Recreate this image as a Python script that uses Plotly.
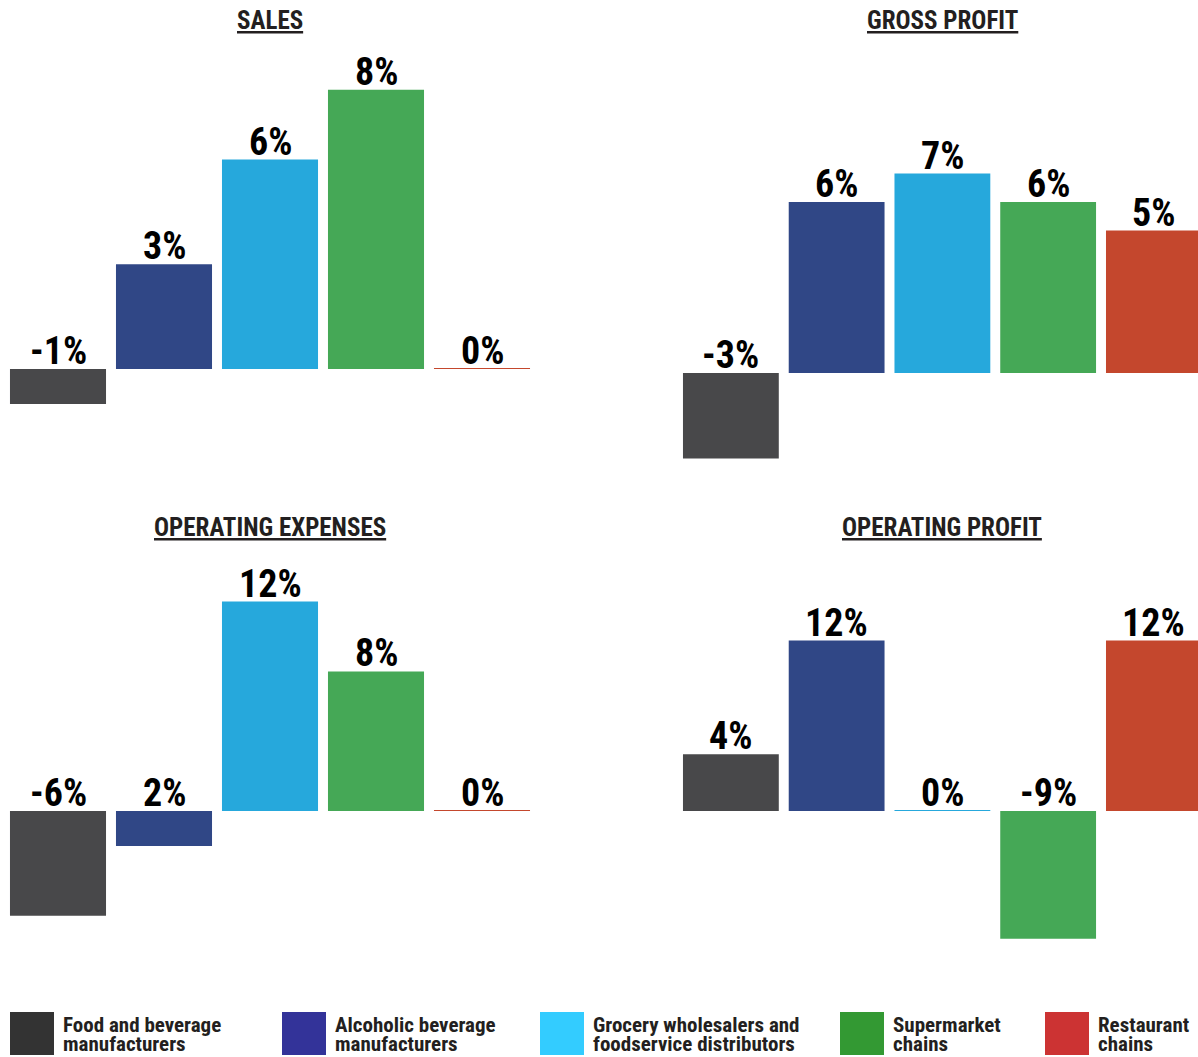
import plotly.graph_objects as go

W, H = 1198, 1057

categories = ["Food and beverage manufacturers", "Alcoholic beverage manufacturers",
              "Grocery wholesalers and foodservice distributors", "Supermarket chains",
              "Restaurant chains"]
legend_line1 = ["Food and beverage", "Alcoholic beverage", "Grocery wholesalers and",
                "Supermarket", "Restaurant"]
legend_line2 = ["manufacturers", "manufacturers", "foodservice distributors",
                "chains", "chains"]

panel_titles = ["SALES", "GROSS PROFIT", "OPERATING EXPENSES", "OPERATING PROFIT"]

sales_values = [-1, 3, 6, 8, 0.005]
sales_labels = ["-1%", "3%", "6%", "8%", "0%"]
gross_values = [-3, 6, 7, 6, 5]
gross_labels = ["-3%", "6%", "7%", "6%", "5%"]
opex_values = [-6, -2, 12, 8, 0.005]
opex_labels = ["-6%", "2%", "12%", "8%", "0%"]
opprofit_values = [4, 12, 0.01, -9, 12]
opprofit_labels = ["4%", "12%", "0%", "-9%", "12%"]

bar_colors = ["#48484a", "#304786", "#26a8dc", "#45a856", "#c4472d"]
legend_colors = ["#333333", "#333399", "#33ccff", "#339933", "#cc3333"]

FONT = "Roboto Condensed, Liberation Sans Narrow, DejaVu Sans Condensed, sans-serif"

fig = go.Figure()

def px_x(p):
    return p / W

def px_y(p):
    return 1 - p / H

panels = [
    (sales_values, sales_labels, (5, 535), (50, 470), 369, 34.9, 4.5),
    (gross_values, gross_labels, (678, 1198), (50, 470), 373, 28.5, 4.417),
    (opex_values, opex_labels, (5, 535), (560, 965), 811, 17.45, 4.5),
    (opprofit_values, opprofit_labels, (678, 1198), (560, 965), 811, 14.2, 4.417),
]

title_pos = [(270, 21), (942, 21), (270, 527), (942, 527)]

for i, (vals, labs, xd, yd, zero, scale, xend) in enumerate(panels, start=1):
    xa = "x" if i == 1 else f"x{i}"
    ya = "y" if i == 1 else f"y{i}"
    fig.add_trace(go.Bar(
        x=categories, y=vals, marker=dict(color=bar_colors, line=dict(width=0)),
        xaxis=xa, yaxis=ya, showlegend=False, hoverinfo="skip",
    ))
    for cat, v, lab in zip(categories, vals, labs):
        fig.add_annotation(
            x=cat, y=max(v, 0), xref=xa, yref=ya, text=lab, showarrow=False,
            xanchor="center", yanchor="bottom", yshift=-6,
            font=dict(family=FONT, size=38, color="#000000", weight="bold"),
        )
    top_v = (zero - yd[0]) / scale
    bot_v = (zero - yd[1]) / scale
    axis_common = dict(visible=False, showgrid=False, zeroline=False, fixedrange=True)
    fig.update_layout(**{
        ("xaxis" if i == 1 else f"xaxis{i}"): dict(
            domain=[px_x(xd[0]), px_x(xd[1])], range=[-0.5, xend],
            anchor=ya, type="category", **axis_common),
        ("yaxis" if i == 1 else f"yaxis{i}"): dict(
            domain=[px_y(yd[1]), px_y(yd[0])], range=[bot_v, top_v],
            anchor=xa, **axis_common),
    })
    tx, ty = title_pos[i - 1]
    fig.add_annotation(
        x=px_x(tx), y=px_y(ty), xref="paper", yref="paper",
        text=panel_titles[i - 1], showarrow=False, xanchor="center", yanchor="middle",
        font=dict(family=FONT, size=25, color="#231f20", weight="bold", lineposition="under"),
    )

legend_x = [10, 282, 540, 840, 1045]
for lx, col, l1, l2 in zip(legend_x, legend_colors, legend_line1, legend_line2):
    fig.add_shape(type="rect", xref="paper", yref="paper",
                  x0=px_x(lx), x1=px_x(lx + 44), y0=px_y(1055), y1=px_y(1012),
                  fillcolor=col, line=dict(width=0))
    for txt, cy in ((l1, 1025), (l2, 1044)):
        fig.add_annotation(
            x=px_x(lx + 51), y=px_y(cy), xref="paper", yref="paper",
            text=txt, showarrow=False, xanchor="left", yanchor="middle", align="left",
            font=dict(family=FONT, size=21, color="#231f20", weight="bold"),
        )

fig.update_layout(
    width=W, height=H, margin=dict(l=0, r=0, t=0, b=0),
    paper_bgcolor="white", plot_bgcolor="white",
    bargap=0.094, showlegend=False,
)

fig.write_html("out.html", config={"displayModeBar": False})
